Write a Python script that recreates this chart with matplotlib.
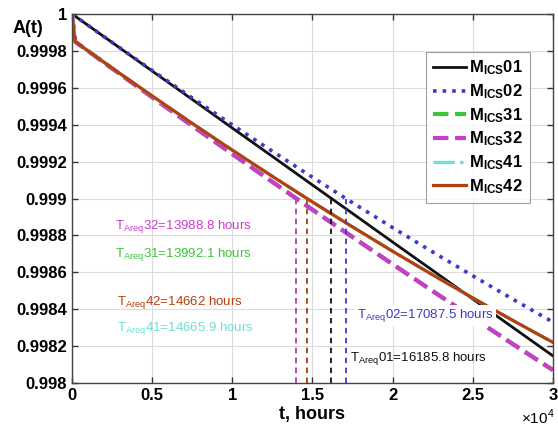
import matplotlib
matplotlib.use("Agg")
import matplotlib.pyplot as plt

plt.rcParams['font.family'] = ['Liberation Sans', 'DejaVu Sans']
plt.rcParams['mathtext.fontset'] = 'custom'
plt.rcParams['mathtext.rm'] = 'Liberation Sans'
plt.rcParams['mathtext.bf'] = 'Liberation Sans:bold'

# ---- data ----
t = [0, 200, 2500, 5000, 7500, 10000, 12500, 15000, 17500, 20000, 22500, 25000, 27500, 30000]
m01 = [1.0, 0.999988, 0.999846, 0.999691, 0.999537, 0.999382, 0.999228, 0.999073,
       0.998919, 0.998764, 0.998610, 0.998455, 0.998301, 0.998147]
m02 = [1.0, 0.999988, 0.999846, 0.999694, 0.999545, 0.999399, 0.999256, 0.999115,
       0.998977, 0.998842, 0.998710, 0.998581, 0.998454, 0.998330]
m31 = [1.0, 0.99985, 0.999705, 0.999549, 0.999394, 0.999241, 0.999090, 0.998939,
       0.998791, 0.998644, 0.998498, 0.998354, 0.998211, 0.998070]
m32 = [1.0, 0.99985, 0.999705, 0.999549, 0.999394, 0.999241, 0.999090, 0.998939,
       0.998791, 0.998644, 0.998498, 0.998354, 0.998211, 0.998070]
m41 = [1.0, 0.99985, 0.999707, 0.999556, 0.999407, 0.999262, 0.999120, 0.998981,
       0.998846, 0.998714, 0.998586, 0.998461, 0.998339, 0.998220]
m42 = [1.0, 0.99985, 0.999707, 0.999556, 0.999407, 0.999262, 0.999120, 0.998981,
       0.998846, 0.998714, 0.998586, 0.998461, 0.998339, 0.998220]
names = ['01', '02', '31', '32', '41', '42']
t_req = [16185.8, 17087.5, 13992.1, 13988.8, 14665.9, 14662.0]
t_req_txt = ['16185.8', '17087.5', '13992.1', '13988.8', '14665.9', '14662']
a_req = 0.999
xticks = [0, 5000, 10000, 15000, 20000, 25000, 30000]
xtick_labels = ['0', '0.5', '1', '1.5', '2', '2.5', '3']
yticks = [0.998, 0.9982, 0.9984, 0.9986, 0.9988, 0.999, 0.9992, 0.9994, 0.9996, 0.9998, 1.0]
ytick_labels = ['0.998', '0.9982', '0.9984', '0.9986', '0.9988', '0.999', '0.9992',
                '0.9994', '0.9996', '0.9998', '1']

series = [m01, m02, m31, m32, m41, m42]
colors = ['#111111', '#3b3bc8', '#3cc43c', '#cc3ccc', '#6fe0d2', '#b5400f']
styles = ['-', ':', '--', '--', '-.', '-']
widths = [2.0, 2.6, 3.0, 3.0, 2.4, 2.3]

# annotation positions (data coords)
ann_pos = {'32': (2700, 0.998846), '31': (2700, 0.998694), '42': (2800, 0.998439),
           '41': (2800, 0.998298), '02': (17800, 0.998368), '01': (17350, 0.998135)}

fig = plt.figure(figsize=(5.58, 4.32), dpi=100)
ax = fig.add_axes([0.129, 0.1134, 0.862, 0.8542])

for s, c, ls, lw, n in zip(series, colors, styles, widths, names):
    ax.plot(t, s, color=c, linestyle=ls, linewidth=lw,
            label=r'$\mathbf{M_{ICS}}$' + n)

for i in range(len(names)):
    ax.plot([t_req[i], t_req[i]], [0.998, a_req], color=colors[i],
            linestyle=(0, (3, 2.5)), linewidth=1.3)

for i, n in enumerate(names):
    x, y = ann_pos[n]
    kw = {}
    if n == '02':
        kw['bbox'] = dict(facecolor='white', edgecolor='none', pad=1.5)
    ax.text(x, y, r'$\mathregular{T_{Areq}}$' + n + '=' + t_req_txt[i] + ' hours',
            color=colors[i], fontsize=9.5, va='center', ha='left', **kw)

ax.set_xlim(0, 30000)
ax.set_ylim(0.998, 1.0)
ax.set_xticks(xticks)
ax.set_xticklabels(xtick_labels, fontsize=12, fontweight='bold')
ax.set_yticks(yticks)
ax.set_yticklabels(ytick_labels, fontsize=12, fontweight='bold')
ax.tick_params(direction='in', top=True, right=True, length=4, width=1, color='#333333')
ax.grid(True, color='#dcdcdc', linewidth=0.8)
ax.set_axisbelow(True)
for sp in ax.spines.values():
    sp.set_color('#444444')
    sp.set_linewidth(1.0)

ax.set_xlabel('t, hours', fontsize=13, fontweight='bold', labelpad=2)
fig.text(0.022, 0.933, 'A(t)', fontsize=13, fontweight='bold', ha='left', va='center')
fig.text(0.993, 0.012, r'$\times$10$^4$', fontsize=11, ha='right', va='bottom')

leg = ax.legend(loc='upper right', bbox_to_anchor=(0.952, 0.897),
                prop={'weight': 'bold', 'size': 12}, frameon=True, fancybox=False,
                edgecolor='#888888', handlelength=2.0, handletextpad=0.2,
                labelspacing=0.3, borderpad=0.4, borderaxespad=0)
leg.get_frame().set_linewidth(0.8)

fig.savefig('out.png', dpi=100)
